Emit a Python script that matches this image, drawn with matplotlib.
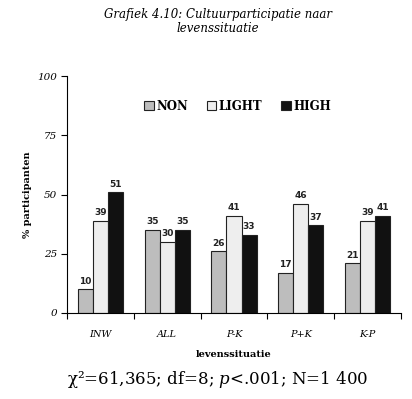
import matplotlib
matplotlib.use("Agg")
import matplotlib.pyplot as plt
import numpy as np

categories = ["INW", "ALL", "P-K", "P+K", "K-P"]
series_names = ["NON", "LIGHT", "HIGH"]
non = [10, 35, 26, 17, 21]
light = [39, 30, 41, 46, 39]
high = [51, 35, 33, 37, 41]
yticks = [0, 25, 50, 75, 100]

plt.rcParams['mathtext.fontset'] = 'dejavuserif'

fig = plt.figure(figsize=(4.12, 3.99), dpi=100)
ax = fig.add_axes([67/412, 1-313/399, 334/412, 237/399])

x = np.arange(len(categories))
w = 0.225
colors = ["#bdbdbd", "#eeeeee", "#111111"]
vals = [non, light, high]
for k, (name, v) in enumerate(zip(series_names, vals)):
    bars = ax.bar(x + (k-1)*w, v, w, color=colors[k], edgecolor="#222222",
                  linewidth=0.8, label=name)
    for b, val in zip(bars, v):
        ax.text(b.get_x()+b.get_width()/2, val+1.5, str(val), ha="center", va="bottom",
                fontsize=6.5, fontweight="bold", family="DejaVu Sans", color="#222222")

ax.set_xlim(-0.5, 4.5)
ax.set_ylim(0, 100)
ax.set_yticks(yticks)
ax.set_yticklabels([str(t) for t in yticks], fontstyle="italic", family="DejaVu Serif", fontsize=7.5)
ax.set_xticks(x)
ax.set_xticklabels(categories, fontstyle="italic", family="DejaVu Serif", fontsize=7)
ax.tick_params(axis="x", length=0, pad=12)
ax.set_xticks(np.arange(-0.5, 5, 1), minor=True)
ax.tick_params(axis="x", which="minor", length=4, width=0.8)
ax.tick_params(axis="y", length=4, width=0.8, pad=3)
for s in ["top", "right"]:
    ax.spines[s].set_visible(False)
for s in ["left", "bottom"]:
    ax.spines[s].set_linewidth(0.8)

ax.set_ylabel("% participanten", fontweight="bold", family="DejaVu Serif", fontsize=7, labelpad=4)
ax.set_xlabel("levenssituatie", fontweight="bold", family="DejaVu Serif", fontsize=7, labelpad=8)

leg = ax.legend(loc="upper left", bbox_to_anchor=(0.2, 0.945), ncol=3, frameon=False,
                handlelength=0.8, handleheight=0.8, handletextpad=0.2, columnspacing=1.6,
                prop={"family": "DejaVu Serif", "weight": "bold", "size": 8.5})

fig.text(218/412, 1-8/399, "Grafiek 4.10: Cultuurparticipatie naar\nlevenssituatie", ha="center", va="top",
         fontstyle="italic", family="DejaVu Serif", fontsize=8.5, linespacing=1.1)
fig.text(218/412, 1-380/399, r"χ²=61,365; df=8; $p$<.001; N=1 400", ha="center", va="center",
         family="DejaVu Serif", fontsize=12)

fig.savefig("out.png", dpi=100)
